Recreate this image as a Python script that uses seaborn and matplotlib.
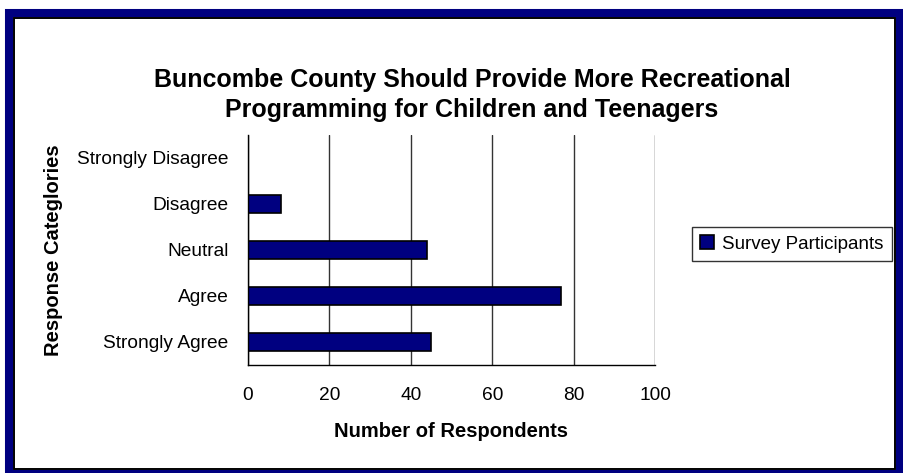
import matplotlib
matplotlib.use("Agg")
import matplotlib.pyplot as plt
import seaborn as sns
import pandas as pd
from matplotlib.patches import Rectangle

categories = ['Strongly Disagree', 'Disagree', 'Neutral', 'Agree', 'Strongly Agree']
respondents = [0, 8, 44, 77, 45]
x_ticks = [0, 20, 40, 60, 80, 100]

df = pd.DataFrame({'Response': categories, 'Count': respondents})

sns.set_style("white")
plt.rcParams['font.family'] = ['Liberation Sans', 'DejaVu Sans']
plt.rcParams.update({'text.color': 'black', 'axes.labelcolor': 'black',
                     'xtick.color': 'black', 'ytick.color': 'black'})

fig = plt.figure(figsize=(9.04, 4.73), dpi=100)
# plot area: x 248..655 px, y 135..365 px
ax = fig.add_axes([248 / 904, 1 - 365 / 473, 407 / 904, 230 / 473])

sns.barplot(data=df, x='Count', y='Response', order=categories, orient='h',
            color='#000080', edgecolor='black', linewidth=1.2, width=0.4,
            saturation=1, label='Survey Participants', ax=ax)

ax.set_xlim(0, 100)
ax.set_xticks(x_ticks)
ax.set_xticklabels([str(t) for t in x_ticks])
ax.xaxis.grid(True, color='#333333', linewidth=1)
ax.set_axisbelow(True)
for s in ['top', 'right']:
    ax.spines[s].set_visible(False)
for s in ['left', 'bottom']:
    ax.spines[s].set_color('black')
    ax.spines[s].set_linewidth(1)

ax.set_ylim(len(categories) - 0.5, -0.5)
ax.tick_params(axis='y', which='major', length=0, labelsize=13.8, pad=14)
ax.set_yticks([i - 0.5 for i in range(len(categories) + 1)], minor=True)
ax.tick_params(axis='y', which='minor', length=5, direction='out', color='black')
ax.tick_params(axis='x', length=6, direction='inout', color='black', labelsize=13.8, pad=13)

ax.set_xlabel('Number of Respondents', fontsize=14.5, fontweight='bold', labelpad=13)
ax.set_ylabel('Response Categlories', fontsize=14.5, fontweight='bold', labelpad=10)

fig.text(472 / 904, 1 - 95 / 473,
         'Buncombe County Should Provide More Recreational\nProgramming for Children and Teenagers',
         ha='center', va='center', fontsize=18, fontweight='bold', linespacing=1.3)

leg = ax.legend(loc='upper left', bbox_to_anchor=(692 / 904, 1 - 227 / 473),
                bbox_transform=fig.transFigure, fontsize=13.5, frameon=True, fancybox=False,
                handlelength=0.7, handleheight=0.7, handletextpad=0.45,
                borderpad=0.45, borderaxespad=0)
leg.get_frame().set_edgecolor('black')
leg.get_frame().set_linewidth(1)

# navy frame with thin black inner line
fig.patches.append(Rectangle((9 / 904, -1 / 473), 891 / 904, 461 / 473, transform=fig.transFigure,
                             fill=False, edgecolor='#000080', linewidth=5.8, zorder=0))
fig.patches.append(Rectangle((14 / 904, 4 / 473), 881 / 904, 451 / 473, transform=fig.transFigure,
                             fill=False, edgecolor='black', linewidth=1.4, zorder=0))

fig.savefig('out.png', dpi=100)
